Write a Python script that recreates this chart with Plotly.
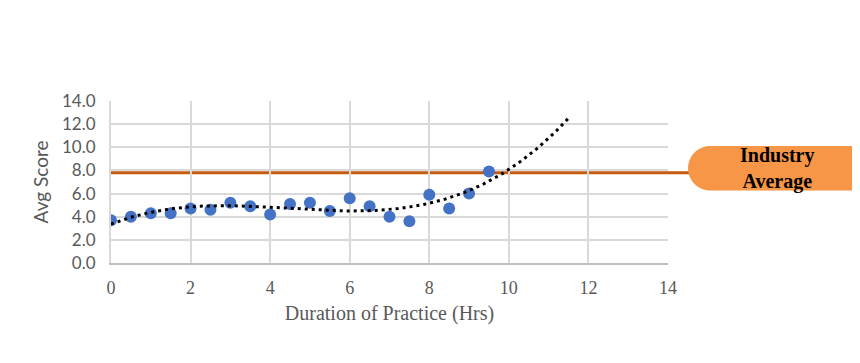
import numpy as np
import plotly.graph_objects as go

# ---- data ----
hours = [0, 0.5, 1, 1.5, 2, 2.5, 3, 3.5, 4, 4.5, 5, 5.5, 6, 6.5, 7, 7.5, 8, 8.5, 9, 9.5]
avg_score = [3.7, 4.0, 4.3, 4.3, 4.7, 4.6, 5.2, 4.9, 4.2, 5.1, 5.2, 4.5, 5.6, 4.9, 4.0, 3.6, 5.9, 4.7, 6.0, 7.9]
industry_avg = 7.8
industry_ref = 8.0
trend_order = 3
trend_forward = 2.0
x_ticks = [0, 2, 4, 6, 8, 10, 12, 14]
y_ticks = [0, 2, 4, 6, 8, 10, 12, 14]
x_max = 14
y_max = 14

# polynomial trendline (like a spreadsheet trendline with forward forecast)
coef = np.polyfit(hours, avg_score, trend_order)
tx = np.linspace(min(hours), max(hours) + trend_forward, 200)
ty = np.polyval(coef, tx)

fig = go.Figure()
fig.add_trace(go.Scatter(
    x=hours, y=avg_score, mode="markers",
    marker=dict(color="#4472C4", size=12),
    name="Avg Score", showlegend=False,
))
fig.add_trace(go.Scatter(
    x=tx, y=ty, mode="lines",
    line=dict(color="black", width=3, dash="3px,4px"),
    name="Poly. trend", showlegend=False, hoverinfo="skip",
))

ORANGE_DARK = "#C55A11"
ORANGE = "#F79646"

yp = industry_avg / y_max
shapes = [
    dict(type="line", xref="paper", yref="paper", x0=0, x1=1.04, y0=yp, y1=yp,
         line=dict(color=ORANGE_DARK, width=3), layer="below"),
    dict(type="line", xref="paper", yref="y", x0=0, x1=1, y0=industry_ref, y1=industry_ref,
         line=dict(color=ORANGE_DARK, width=1.3), layer="between"),
]

# rounded label box
W, H = 557.0, 162.0
left_px, top_px, bot_px = 577.0, 117.0, 72.5  # relative to plot-area left/bottom
r_px = (top_px - bot_px) / 2
x_left = left_px / W
rx = r_px / W
ry = r_px / H
yt = top_px / H
yb = bot_px / H
cy = (yt + yb) / 2
cx = x_left + rx
k = 0.5523
xr = 1.45
path = (f"M {xr},{yt} L {cx},{yt} "
        f"C {cx - k*rx},{yt} {x_left},{cy + k*ry} {x_left},{cy} "
        f"C {x_left},{cy - k*ry} {cx - k*rx},{yb} {cx},{yb} "
        f"L {xr},{yb} Z")
shapes.append(dict(type="path", xref="paper", yref="paper", path=path,
                   fillcolor=ORANGE, line=dict(width=0), layer="above"))
fig.update_layout(shapes=shapes)

fig.add_annotation(
    xref="paper", yref="paper", x=(777 - 111) / W, y=cy,
    text="<b>Industry<br>Average</b>", showarrow=False,
    font=dict(family="Liberation Serif, serif", size=20, color="black"),
    align="center", xanchor="center", yanchor="middle",
)

GRID = "#D9D9D9"
fig.update_xaxes(
    range=[0, x_max], tickvals=x_ticks, ticktext=[str(v) for v in x_ticks],
    showgrid=True, gridcolor=GRID, gridwidth=2,
    showline=True, linecolor="#BFBFBF", linewidth=2,
    zeroline=False, ticks="",
    tickfont=dict(family="Liberation Serif, serif", size=18, color="#595959"),
    title=dict(text="Duration of Practice (Hrs)", standoff=9,
               font=dict(family="Liberation Serif, serif", size=20, color="#595959")),
    ticklabelstandoff=7,
)
fig.update_yaxes(
    range=[0, y_max], tickvals=y_ticks, ticktext=[f"{v:.1f}" for v in y_ticks],
    showgrid=True, gridcolor=GRID, gridwidth=2,
    showline=True, linecolor=GRID, linewidth=2,
    zeroline=False, ticks="",
    tickfont=dict(family="Lato, sans-serif", size=17, color="#595959"),
    title=dict(text="Avg Score", standoff=8,
               font=dict(family="Lato, sans-serif", size=19, color="#595959")),
    ticklabelstandoff=10,
)
fig.update_layout(
    width=852, height=355,
    margin=dict(l=103, r=192, t=93, b=100),
    paper_bgcolor="white", plot_bgcolor="rgba(0,0,0,0)",
    showlegend=False,
)
fig.write_html("out.html")
